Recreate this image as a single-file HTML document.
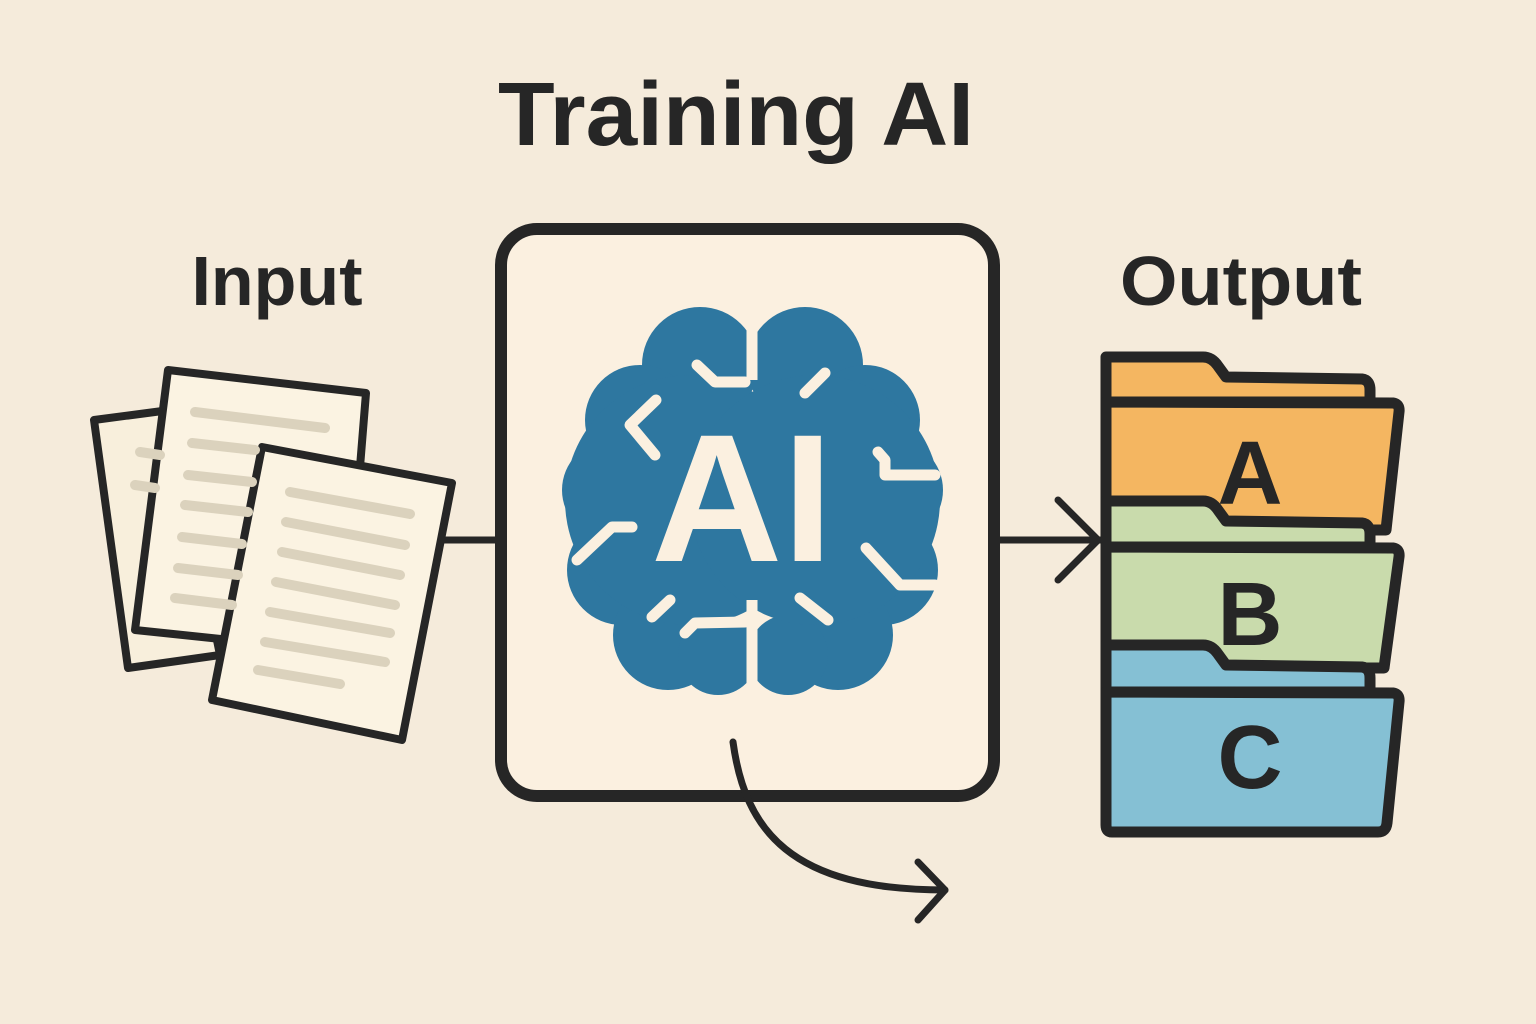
<!DOCTYPE html>
<html><head><meta charset="utf-8"><style>
html,body{margin:0;padding:0;background:#f5ebdb}
svg{display:block}
text{font-family:"Liberation Sans",sans-serif;font-weight:bold}
</style></head><body>
<svg width="1536" height="1024" viewBox="0 0 1536 1024" xmlns="http://www.w3.org/2000/svg">
<rect width="1536" height="1024" fill="#f5ebdb"/>
<text x="736" y="145" font-size="90" text-anchor="middle" fill="#262626" textLength="476" lengthAdjust="spacingAndGlyphs">Training AI</text>
<text x="277" y="305" font-size="70" text-anchor="middle" fill="#262626">Input</text>
<text x="1241" y="305" font-size="70" text-anchor="middle" fill="#262626" textLength="242" lengthAdjust="spacingAndGlyphs">Output</text>

<g stroke="#262626" stroke-width="7" fill="none" stroke-linecap="round" stroke-linejoin="round">
<line x1="430" y1="540" x2="497" y2="540"/>
<line x1="998" y1="540" x2="1100" y2="540"/>
<polyline points="1058,500 1098,540 1058,580"/>
</g>

<g stroke="#262626" stroke-width="8" stroke-linejoin="round">
<polygon points="94,420 170,410 220,655 128,668" fill="#f8efdc"/>
<polygon points="168,370 366,393 345,652 135,630" fill="#fbf3e2"/>
<polygon points="262,447 452,483 402,740 212,700" fill="#fbf3e2"/>
</g>
<g stroke="#dbd2bd" stroke-width="10" stroke-linecap="round">
<line x1="195" y1="412" x2="325" y2="428"/>
<line x1="192" y1="443" x2="255" y2="450"/>
<line x1="188" y1="475" x2="252" y2="482"/>
<line x1="185" y1="505" x2="248" y2="512"/>
<line x1="182" y1="537" x2="242" y2="544"/>
<line x1="178" y1="568" x2="238" y2="575"/>
<line x1="175" y1="598" x2="232" y2="605"/>
<line x1="290" y1="492" x2="410" y2="514"/>
<line x1="286" y1="522" x2="405" y2="545"/>
<line x1="282" y1="552" x2="400" y2="575"/>
<line x1="276" y1="582" x2="395" y2="605"/>
<line x1="270" y1="612" x2="390" y2="633"/>
<line x1="265" y1="642" x2="385" y2="662"/>
<line x1="258" y1="670" x2="340" y2="684"/>
<line x1="140" y1="452" x2="160" y2="455"/>
<line x1="135" y1="485" x2="155" y2="488"/>
</g>

<rect x="501" y="229" width="493" height="567" rx="36" fill="#fbf0e0" stroke="#262626" stroke-width="12"/>

<g stroke="#262626" stroke-width="7" fill="none" stroke-linecap="round" stroke-linejoin="round">
<path d="M733,742 C745,830 790,890 945,890"/>
<polyline points="918,862 945,890 918,920"/>
</g>

<g fill="#2e77a0">
<circle cx="700" cy="365" r="58"/><circle cx="640" cy="420" r="55"/><circle cx="612" cy="490" r="50"/>
<circle cx="622" cy="570" r="55"/><circle cx="668" cy="635" r="55"/><circle cx="718" cy="655" r="40"/>
<circle cx="690" cy="500" r="125"/>
<circle cx="805" cy="365" r="58"/><circle cx="865" cy="420" r="55"/><circle cx="893" cy="490" r="50"/>
<circle cx="883" cy="570" r="55"/><circle cx="838" cy="635" r="55"/><circle cx="788" cy="655" r="40"/>
<circle cx="815" cy="500" r="125"/>
</g>
<g stroke="#fbf0e0" stroke-width="11" stroke-linecap="round" fill="none" stroke-linejoin="round">
<line x1="752" y1="300" x2="752" y2="380" stroke-linecap="butt"/>
<line x1="752" y1="600" x2="752" y2="700" stroke-linecap="butt"/>
<polyline points="697,365 715,382 745,382"/>
<line x1="805" y1="393" x2="825" y2="373"/>
<polyline points="656,400 630,425 655,455 M630,425 570,425"/>
<polyline points="632,527 612,527 577,560"/>
<polyline points="878,452 885,460 885,475 935,475"/>
<polyline points="866,548 900,585 935,585"/>
<line x1="652" y1="617" x2="670" y2="600"/>
<polyline points="685,633 695,623 745,622"/>
<line x1="800" y1="598" x2="828" y2="620"/>
</g>
<text x="742" y="561" font-size="182" text-anchor="middle" fill="#fbf0e0">AI</text>

<g stroke="#262626" stroke-width="11" stroke-linejoin="round">
<path d="M1106,357 L1203,357 Q1212,357 1218,366 L1226,377 L1362,379 Q1370,380 1370,390 L1370,402 L1106,402 Z" fill="#f4b661"/>
<path d="M1106,402 L1393,403 Q1400,404 1399,412 L1386,530 L1106,530 Z" fill="#f4b661"/>
<path d="M1106,501 L1203,501 Q1212,501 1218,510 L1226,521 L1362,523 Q1370,524 1370,534 L1370,547 L1106,547 Z" fill="#c9dbac"/>
<path d="M1106,547 L1393,548 Q1400,549 1399,557 L1384,668 L1106,668 Z" fill="#c9dbac"/>
<path d="M1106,645 L1203,645 Q1212,645 1218,654 L1226,665 L1362,667 Q1370,668 1370,678 L1370,692 L1106,692 Z" fill="#85c0d4"/>
<path d="M1106,692 L1393,693 Q1400,694 1399,702 L1387,823 Q1386,832 1378,832 L1112,832 Q1106,832 1106,825 Z" fill="#85c0d4"/>
</g>
<text x="1250" y="504" font-size="90" text-anchor="middle" fill="#262626">A</text>
<text x="1250" y="645" font-size="90" text-anchor="middle" fill="#262626">B</text>
<text x="1250" y="788" font-size="90" text-anchor="middle" fill="#262626">C</text>
</svg>
</body></html>
